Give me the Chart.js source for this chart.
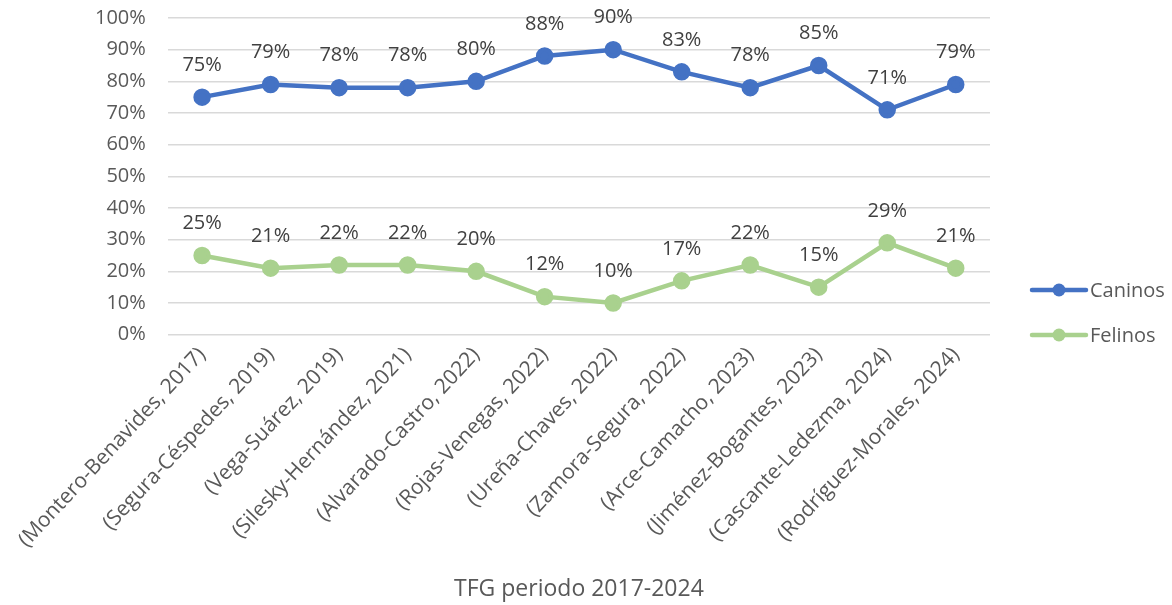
<!DOCTYPE html>
<html>
<head>
<meta charset="utf-8">
<script src="https://cdn.jsdelivr.net/npm/chart.js@4"></script>
<style>
  html, body { margin: 0; padding: 0; background: #fff; }
  #wrap { width: 1172px; height: 605px; }
</style>
</head>
<body>
<div id="wrap"><canvas id="grafico"></canvas></div>
<script>
// Data
const categorias = [
    "(Montero-Benavides, 2017)", "(Segura-Céspedes, 2019)", "(Vega-Suárez, 2019)",
    "(Silesky-Hernández, 2021)", "(Alvarado-Castro, 2022)", "(Rojas-Venegas, 2022)",
    "(Ureña-Chaves, 2022)", "(Zamora-Segura, 2022)", "(Arce-Camacho, 2023)",
    "(Jiménez-Bogantes, 2023)", "(Cascante-Ledezma, 2024)", "(Rodríguez-Morales, 2024)"
];
const caninos = [75, 79, 78, 78, 80, 88, 90, 83, 78, 85, 71, 79];
const felinos = [25, 21, 22, 22, 20, 12, 10, 17, 22, 15, 29, 21];
const ticksY = [0, 10, 20, 30, 40, 50, 60, 70, 80, 90, 100];

const AZUL = "#4472C4";
const VERDE = "#A9D18E";
const FUENTE = "'Open Sans', sans-serif";

// labels above each point
const etiquetas = {
    id: "etiquetas",
    afterDatasetsDraw(chart) {
        const ctx = chart.ctx;
        ctx.save();
        ctx.font = "20px " + FUENTE;
        ctx.fillStyle = "#404040";
        ctx.textAlign = "center";
        ctx.textBaseline = "middle";
        chart.data.datasets.forEach((ds, i) => {
            chart.getDatasetMeta(i).data.forEach((pt, j) => {
                ctx.fillText(ds.data[j] + "%", pt.x, pt.y - 32);
            });
        });
        ctx.restore();
    }
};

// legend with line + marker like the original
const leyenda = {
    id: "leyenda",
    afterDraw(chart) {
        const ctx = chart.ctx;
        const x0 = chart.chartArea.right + 42;
        let y = 290;
        ctx.save();
        ctx.font = "20px " + FUENTE;
        ctx.textBaseline = "middle";
        chart.data.datasets.forEach(ds => {
            ctx.strokeStyle = ds.borderColor;
            ctx.lineWidth = 4.5;
            ctx.lineCap = "round";
            ctx.beginPath();
            ctx.moveTo(x0, y);
            ctx.lineTo(x0 + 54, y);
            ctx.stroke();
            ctx.fillStyle = ds.borderColor;
            ctx.beginPath();
            ctx.arc(x0 + 27, y, 6.5, 0, Math.PI * 2);
            ctx.fill();
            ctx.fillStyle = "#595959";
            ctx.fillText(ds.label, x0 + 58, y + 1);
            y += 45;
        });
        ctx.restore();
    }
};

new Chart(document.getElementById("grafico"), {
    type: "line",
    data: {
        labels: categorias,
        datasets: [
            {
                label: "Caninos",
                data: caninos,
                borderColor: AZUL,
                backgroundColor: AZUL,
                borderWidth: 4.5,
                pointRadius: 6.5,
                pointHoverRadius: 6.5,
                tension: 0
            },
            {
                label: "Felinos",
                data: felinos,
                borderColor: VERDE,
                backgroundColor: VERDE,
                borderWidth: 4.5,
                pointRadius: 6.5,
                pointHoverRadius: 6.5,
                tension: 0
            }
        ]
    },
    options: {
        responsive: true,
        maintainAspectRatio: false,
        animation: false,
        layout: { padding: { left: 73, right: 182, top: 18, bottom: 2 } },
        plugins: {
            legend: { display: false },
            tooltip: { enabled: false }
        },
        scales: {
            x: {
                offset: true,
                grid: { display: false, drawTicks: false },
                border: { display: false },
                ticks: {
                    color: "#595959",
                    font: { family: FUENTE, size: 21 },
                    minRotation: 47,
                    maxRotation: 47,
                    padding: 8,
                    autoSkip: false
                },
                title: {
                    display: true,
                    text: "TFG periodo 2017-2024",
                    color: "#595959",
                    font: { family: FUENTE, size: 23 },
                    padding: { top: 15, bottom: 0 }
                }
            },
            y: {
                min: 0,
                max: 100,
                afterBuildTicks(axis) {
                    axis.ticks = ticksY.map(v => ({ value: v }));
                },
                // the tick padding should only push labels sideways
                afterFit(axis) {
                    axis.paddingTop = 0;
                    axis.paddingBottom = 0;
                },
                grid: { color: "#d9d9d9", lineWidth: 1.5, drawTicks: false },
                border: { display: false },
                ticks: {
                    color: "#595959",
                    font: { family: FUENTE, size: 20 },
                    padding: 22,
                    callback: v => v + "%"
                }
            }
        }
    },
    plugins: [etiquetas, leyenda]
});
</script>
</body>
</html>
